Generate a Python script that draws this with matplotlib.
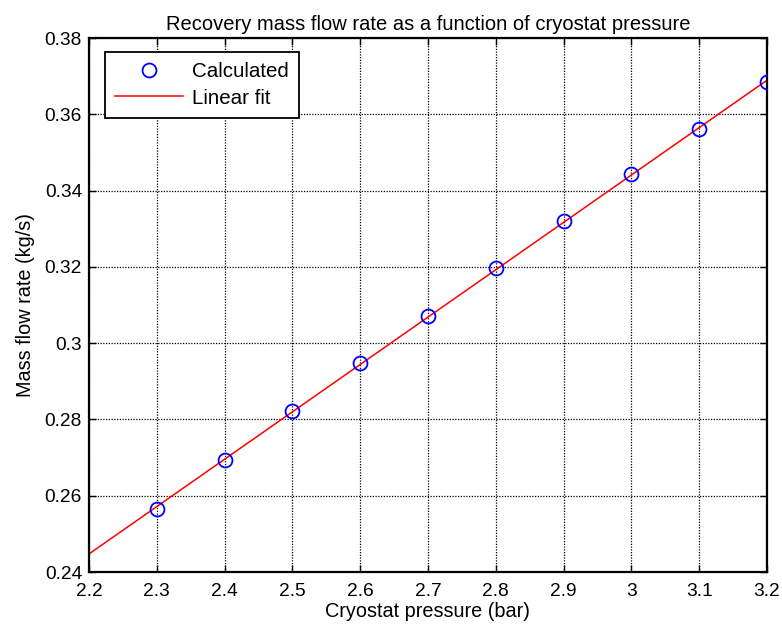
import numpy as np
import matplotlib
matplotlib.use("Agg")
import matplotlib.pyplot as plt

plt.rcParams["font.family"] = ["Liberation Sans", "DejaVu Sans"]

# cryostat pressure (bar) and calculated recovery mass flow (kg/s)
pressure = [2.3, 2.4, 2.5, 2.6, 2.7, 2.8, 2.9, 3.0, 3.1, 3.2]
mass_flow = [0.2564, 0.2695, 0.2822, 0.2948, 0.3071, 0.3197, 0.3320, 0.3443, 0.3561, 0.3685]
fit_range = [2.2, 3.2]

x_ticks = [2.2, 2.3, 2.4, 2.5, 2.6, 2.7, 2.8, 2.9, 3.0, 3.1, 3.2]
x_labels = ["2.2", "2.3", "2.4", "2.5", "2.6", "2.7", "2.8", "2.9", "3", "3.1", "3.2"]
y_ticks = [0.24, 0.26, 0.28, 0.30, 0.32, 0.34, 0.36, 0.38]
y_labels = ["0.24", "0.26", "0.28", "0.3", "0.32", "0.34", "0.36", "0.38"]

coef = np.polyfit(pressure, mass_flow, 1)
x_fit = np.linspace(fit_range[0], fit_range[1], 50)
y_fit = np.polyval(coef, x_fit)

fig = plt.figure(figsize=(7.82, 6.31), dpi=100)
ax = fig.add_axes([0.1138, 0.0935, 0.867, 0.846])

ax.plot(pressure, mass_flow, "o", mfc="none", mec="#0000ff", ms=10, mew=1.3,
        label="Calculated", zorder=3)
ax.plot(x_fit, y_fit, "-", color="#ff0000", lw=1.1, label="Linear fit", zorder=2)

ax.set_xlim(2.2, 3.2)
ax.set_ylim(0.24, 0.38)
ax.set_xticks(x_ticks)
ax.set_xticklabels(x_labels)
ax.set_yticks(y_ticks)
ax.set_yticklabels(y_labels)
ax.tick_params(direction="in", top=True, right=True, length=5, width=1,
               labelsize=13.8)
ax.tick_params(axis="x", pad=8)
ax.tick_params(axis="y", pad=5)
ax.grid(True, color="black", linestyle=(0, (1, 1.2)), linewidth=0.9)
for s in ax.spines.values():
    s.set_linewidth(1.6)

ax.set_title("Recovery mass flow rate as a function of cryostat pressure",
             fontsize=14.5, pad=6)
ax.set_xlabel("Cryostat pressure (bar)", fontsize=14.3, labelpad=1)
ax.set_ylabel("Mass flow rate (kg/s)", fontsize=14.3, labelpad=7)

leg = ax.legend(loc="upper left", bbox_to_anchor=(0.0236, 0.974), fontsize=14.8,
                fancybox=False, framealpha=1, edgecolor="black",
                handlelength=3.3, borderpad=0.5, labelspacing=0.35,
                handletextpad=0.45, borderaxespad=0)
leg.get_frame().set_linewidth(1.3)

fig.savefig("out.png", dpi=100)
plt.close(fig)
